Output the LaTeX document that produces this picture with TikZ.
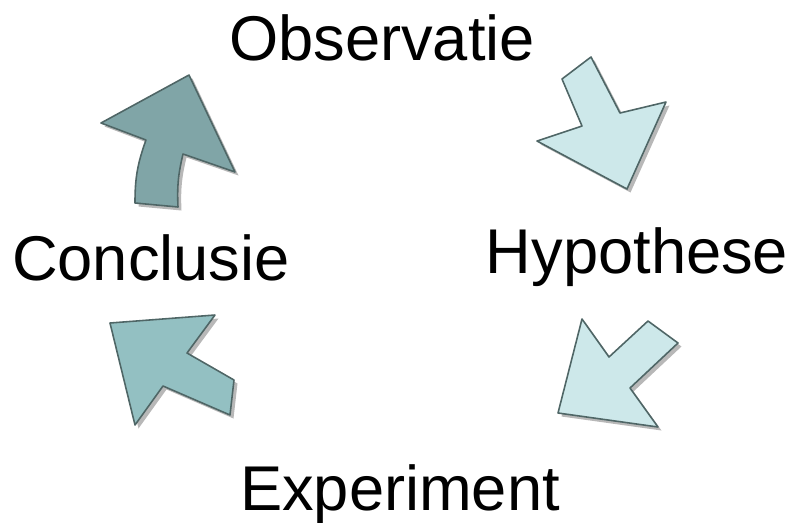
\documentclass[tikz,border=0pt]{standalone}
\usepackage{fontspec}
\setmainfont{Liberation Sans}
\usetikzlibrary{shadows}
\definecolor{PijlLicht}{HTML}{CDE8EA}
\definecolor{PijlMidden}{HTML}{93C0C2}
\definecolor{PijlDonker}{HTML}{80A5A7}
\definecolor{PijlRand}{HTML}{4F6666}
\tikzset{
  pijl/.style={draw=PijlRand, line width=0.9pt, line join=round,
    drop shadow={shadow xshift=0.07cm, shadow yshift=-0.07cm, fill=gray!70, opacity=0.8}},
  stap/.style={anchor=base, inner sep=0pt, font=\fontsize{36}{40}\selectfont}
}

\begin{document}
\begin{tikzpicture}[x=0.02cm, y=-0.02cm]
        \useasboundingbox (0,0) rectangle (789,522);
        % arrows
        \fill[pijl, fill=PijlLicht] (562,79) -- (591,57) -- (620,113) -- (666,102) -- (627,189) -- (537,141) -- (582,126) -- cycle;
        \fill[pijl, fill=PijlLicht] (648,321) -- (678,343) -- (630,388) -- (658,427) -- (558,413) -- (582,319) -- (609,357) -- cycle;
        \fill[pijl, fill=PijlMidden] (110,323) -- (215,315) -- (187,353) -- (234,380) -- (230,415) -- (163,386) -- (135,425) -- cycle;
        \fill[pijl, fill=PijlDonker] (189,75) -- (235,172) -- (183,154) to[bend right=8] (178,207) -- (135,203) to[bend left=10] (146,140) -- (101,123) -- cycle;
        % steps
        \node[stap] (observatie) at (382,60) {Observatie};
        \node[stap] (hypothese) at (637,273) {Hypothese};
        \node[stap] (experiment) at (400,510) {Experiment};
        \node[stap] (conclusie) at (151,280) {Conclusie};
    \end{tikzpicture}
\end{document}
